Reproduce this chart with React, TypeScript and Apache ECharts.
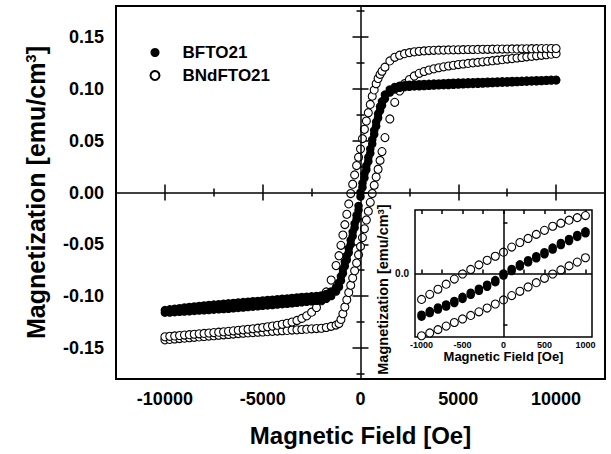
import React, { useEffect, useRef } from "react";
import * as echarts from "echarts";

// Applied magnetic field grid (Oe), ascending
const fieldNeg = [-10000, -9750, -9500, -9250, -9000, -8750, -8500, -8250, -8000, -7750, -7500, -7250, -7000, -6750, -6500, -6250, -6000, -5750, -5500, -5250, -5000, -4750, -4500, -4250, -4000, -3750, -3500, -3250, -3000, -2750, -2500, -2250, -2000, -1750, -1500, -1250];
const fieldMid = [-1100, -1000, -900, -800, -700, -600, -500, -400, -300, -200, -100, 0, 100, 200, 300, 400, 500, 600, 700, 800, 900, 1000, 1100];
const fieldPos = [1250, 1500, 1750, 2000, 2250, 2500, 2750, 3000, 3250, 3500, 3750, 4000, 4250, 4500, 4750, 5000, 5250, 5500, 5750, 6000, 6250, 6500, 6750, 7000, 7250, 7500, 7750, 8000, 8250, 8500, 8750, 9000, 9250, 9500, 9750, 10000];
const field = [...fieldNeg, ...fieldMid, ...fieldPos];

// BFTO21 (filled) – descending branch (upper)
const bftoUpper = [
  -0.1135, -0.1128, -0.1122, -0.1116, -0.1110, -0.1105, -0.1100, -0.1095, -0.1090, -0.1086, -0.1082, -0.1078, -0.1074, -0.1070, -0.1066, -0.1062, -0.1058, -0.1054, -0.1050, -0.1046, -0.1042, -0.1038, -0.1034, -0.1030, -0.1026, -0.1022, -0.1018, -0.1013, -0.1008, -0.1005, -0.1002, -0.0998, -0.0993, -0.0980, -0.0955, -0.0915,
  -0.0870, -0.0810, -0.0740, -0.0670, -0.0610, -0.0540, -0.0460, -0.0380, -0.0300, -0.0220, -0.0130, 0.0000, 0.0090, 0.0180, 0.0260, 0.0340, 0.0420, 0.0510, 0.0600, 0.0680, 0.0760, 0.0830, 0.0880,
  0.0945, 0.0995, 0.1018, 0.1030, 0.1036, 0.1040, 0.1043, 0.1045, 0.1047, 0.1049, 0.1051, 0.1053, 0.1055, 0.1057, 0.1059, 0.1061, 0.1062, 0.1063, 0.1064, 0.1066, 0.1067, 0.1069, 0.1070, 0.1071, 0.1073, 0.1074, 0.1076, 0.1077, 0.1078, 0.1080, 0.1081, 0.1083, 0.1084, 0.1086, 0.1087, 0.1088,
];
// BFTO21 (filled) – ascending branch (lower)
const bftoLower = [
  -0.1160, -0.1158, -0.1155, -0.1152, -0.1149, -0.1146, -0.1143, -0.1140, -0.1137, -0.1134, -0.1131, -0.1128, -0.1125, -0.1122, -0.1118, -0.1114, -0.1110, -0.1106, -0.1102, -0.1098, -0.1094, -0.1090, -0.1086, -0.1082, -0.1078, -0.1074, -0.1069, -0.1064, -0.1059, -0.1055, -0.1050, -0.1045, -0.1040, -0.1025, -0.1000, -0.0955,
  -0.0910, -0.0850, -0.0780, -0.0710, -0.0650, -0.0580, -0.0500, -0.0420, -0.0340, -0.0260, -0.0170, -0.0040, 0.0050, 0.0140, 0.0220, 0.0300, 0.0380, 0.0470, 0.0560, 0.0640, 0.0720, 0.0790, 0.0840,
  0.0905, 0.0965, 0.0995, 0.1010, 0.1017, 0.1021, 0.1024, 0.1026, 0.1028, 0.1030, 0.1032, 0.1034, 0.1036, 0.1038, 0.1040, 0.1042, 0.1044, 0.1046, 0.1048, 0.1050, 0.1052, 0.1054, 0.1056, 0.1058, 0.1060, 0.1062, 0.1064, 0.1066, 0.1068, 0.1070, 0.1072, 0.1074, 0.1076, 0.1078, 0.1080, 0.1082,
];
// BNdFTO21 (open) – descending branch (upper)
const bndUpper = [
  -0.1392, -0.1388, -0.1384, -0.1380, -0.1376, -0.1372, -0.1368, -0.1364, -0.1360, -0.1356, -0.1352, -0.1348, -0.1344, -0.1340, -0.1335, -0.1330, -0.1325, -0.1320, -0.1315, -0.1309, -0.1303, -0.1296, -0.1289, -0.1281, -0.1272, -0.1262, -0.1250, -0.1235, -0.1215, -0.1190, -0.1155, -0.1110, -0.1045, -0.0960, -0.0845, -0.0705,
  -0.0610, -0.0510, -0.0410, -0.0310, -0.0210, -0.0110, -0.0010, 0.0080, 0.0170, 0.0260, 0.0340, 0.0420, 0.0520, 0.0610, 0.0690, 0.0770, 0.0850, 0.0930, 0.0990, 0.1050, 0.1100, 0.1140, 0.1170,
  0.1210, 0.1270, 0.1305, 0.1325, 0.1340, 0.1350, 0.1358, 0.1363, 0.1367, 0.1370, 0.1372, 0.1374, 0.1375, 0.1376, 0.1377, 0.1378, 0.1379, 0.1380, 0.1380, 0.1381, 0.1382, 0.1382, 0.1383, 0.1384, 0.1384, 0.1385, 0.1386, 0.1386, 0.1387, 0.1387, 0.1388, 0.1388, 0.1389, 0.1389, 0.1390, 0.1390,
];
// BNdFTO21 (open) – ascending branch (lower)
const bndLower = [
  -0.1422, -0.1418, -0.1414, -0.1410, -0.1406, -0.1402, -0.1398, -0.1394, -0.1390, -0.1386, -0.1382, -0.1378, -0.1374, -0.1370, -0.1366, -0.1362, -0.1358, -0.1355, -0.1352, -0.1349, -0.1346, -0.1343, -0.1340, -0.1337, -0.1334, -0.1331, -0.1328, -0.1325, -0.1322, -0.1319, -0.1316, -0.1313, -0.1310, -0.1303, -0.1292, -0.1280,
  -0.1265, -0.1225, -0.1170, -0.1105, -0.1035, -0.0965, -0.0895, -0.0825, -0.0755, -0.0680, -0.0600, -0.0520, -0.0435, -0.0350, -0.0265, -0.0180, -0.0095, -0.0010, 0.0070, 0.0150, 0.0225, 0.0310, 0.0395,
  0.0530, 0.0710, 0.0870, 0.0980, 0.1050, 0.1090, 0.1125, 0.1150, 0.1168, 0.1182, 0.1194, 0.1204, 0.1213, 0.1221, 0.1228, 0.1235, 0.1240, 0.1246, 0.1251, 0.1256, 0.1261, 0.1267, 0.1272, 0.1277, 0.1282, 0.1288, 0.1293, 0.1298, 0.1303, 0.1309, 0.1314, 0.1319, 0.1324, 0.1330, 0.1335, 0.1340,
];

// Tick positions
const xMajor = [-10000, -5000, 0, 5000, 10000];
const xMinor = [-7500, -2500, 2500, 7500];
const yMajor = [-0.15, -0.1, -0.05, 0, 0.05, 0.1, 0.15];
const yMinor = [-0.175, -0.125, -0.075, -0.025, 0.025, 0.075, 0.125, 0.175];
const insetXTicks = [-1000, -750, -500, -250, 0, 250, 500, 750, 1000];
const insetXLabels = [-1000, -500, 0, 500, 1000];
const insetYTicks = [-0.1, 0, 0.1];
const insetYLabels = [0];

const FONT = '"Liberation Sans", Arial, Helvetica, sans-serif';

const pairs = (h: number[], m: number[]) => h.map((v, i) => [v, m[i]]);

function axis(gridIndex: number, position: string, min: number, max: number, ticks: number[], len: number, labels?: any) {
  return {
    type: "value",
    gridIndex,
    position,
    min,
    max,
    axisLine: { show: false },
    splitLine: { show: false },
    axisTick: { show: true, inside: true, length: len, customValues: ticks, lineStyle: { color: "#000", width: 1.5 } },
    axisLabel: labels ? labels : { show: false },
  };
}

export default function App() {
  const ref = useRef<HTMLDivElement>(null);
  useEffect(() => {
    if (!ref.current) return;
    const chart = echarts.init(ref.current, null, { renderer: "svg" });
    const bfto = [...pairs(field, bftoLower), ...pairs(field, bftoUpper)];
    const bnd = [...pairs(field, bndLower), ...pairs(field, bndUpper)];
    const zeroLines = {
      silent: true,
      symbol: ["none", "none"],
      label: { show: false },
      lineStyle: { color: "#000", width: 1.5, type: "solid", opacity: 1 },
      emphasis: { disabled: true },
      data: [{ xAxis: 0 }, { yAxis: 0 }],
    };
    const mainXLabel = {
      show: true,
      customValues: xMajor,
      fontSize: 18,
      fontWeight: "bold",
      fontFamily: FONT,
      color: "#000",
      margin: 11,
      formatter: (v: number) => String(v),
    };
    const mainYLabel = {
      show: true,
      customValues: yMajor,
      fontSize: 18,
      fontWeight: "bold",
      fontFamily: FONT,
      color: "#000",
      margin: 12,
      formatter: (v: number) => v.toFixed(2),
    };
    const xMain: any = axis(0, "bottom", -12500, 12500, xMajor, 8, mainXLabel);
    xMain.name = "Magnetic Field [Oe]";
    xMain.nameLocation = "middle";
    xMain.nameGap = 44;
    xMain.nameTextStyle = { fontSize: 24, fontWeight: "bold", fontFamily: FONT, color: "#000" };
    const yMain: any = axis(0, "left", -0.18, 0.18, yMajor, 8, mainYLabel);
    yMain.name = "Magnetization [emu/cm{sup|3}]";
    yMain.nameLocation = "middle";
    yMain.nameGap = 68;
    yMain.nameTextStyle = {
      fontSize: 25,
      fontWeight: "bold",
      fontFamily: FONT,
      color: "#000",
      rich: { sup: { fontSize: 15, fontWeight: "bold", fontFamily: FONT, color: "#000", verticalAlign: "top" } },
    };

    const xInset: any = axis(1, "bottom", -1080, 1080, insetXTicks, 4, {
      show: true,
      customValues: insetXLabels,
      fontSize: 9,
      fontWeight: "bold",
      fontFamily: FONT,
      color: "#000",
      margin: 3,
      formatter: (v: number) => String(v),
    });
    xInset.name = "Magnetic Field [Oe]";
    xInset.nameLocation = "middle";
    xInset.nameGap = 13;
    xInset.nameTextStyle = { fontSize: 13, fontWeight: "bold", fontFamily: FONT, color: "#000" };
    const yInset: any = axis(1, "left", -0.125, 0.125, insetYTicks, 4, {
      show: true,
      customValues: insetYLabels,
      fontSize: 10,
      fontWeight: "bold",
      fontFamily: FONT,
      color: "#000",
      margin: 6,
      formatter: () => "0.0",
    });
    yInset.name = "Magnetization [emu/cm{sup|3}]";
    yInset.nameLocation = "middle";
    yInset.nameGap = 25;
    yInset.nameTextStyle = {
      fontSize: 14.5,
      fontWeight: "bold",
      fontFamily: FONT,
      color: "#000",
      padding: [0, 32, 0, 0],
      rich: { sup: { fontSize: 9.5, fontWeight: "bold", fontFamily: FONT, color: "#000", verticalAlign: "top" } },
    };

    const openStyle = { color: "#fff", borderColor: "#000", borderWidth: 1.1, opacity: 1 };
    const filledStyle = { color: "#000", opacity: 1 };

    const option: any = {
      animation: false,
      backgroundColor: "#fff",
      grid: [
        { left: 116, top: 6, right: 6, bottom: 75, show: true, borderColor: "#000", borderWidth: 2, backgroundColor: "transparent" },
        { left: 415, top: 210, right: 19, bottom: 117, show: true, borderColor: "#000", borderWidth: 1.5, backgroundColor: "#fff" },
      ],
      legend: {
        left: 149.5,
        top: 44,
        padding: 0,
        orient: "vertical",
        itemWidth: 9,
        itemHeight: 9,
        itemGap: 6,
        selectedMode: false,
        textStyle: { fontSize: 17, fontWeight: "bold", fontFamily: FONT, color: "#000", padding: [0, 0, 0, 18] },
        data: [
          { name: "BFTO21", icon: "circle" },
          { name: "BNdFTO21", icon: "circle" },
        ],
      },
      xAxis: [
        xMain,
        axis(0, "bottom", -12500, 12500, xMinor, 4),
        axis(0, "top", -12500, 12500, xMajor, 8),
        axis(0, "top", -12500, 12500, xMinor, 4),
        xInset,
        axis(1, "top", -1080, 1080, insetXTicks, 4),
      ],
      yAxis: [
        yMain,
        axis(0, "left", -0.18, 0.18, yMinor, 4),
        axis(0, "right", -0.18, 0.18, yMajor, 8),
        axis(0, "right", -0.18, 0.18, yMinor, 4),
        yInset,
      ],
      series: [
        {
          name: "BNdFTO21",
          type: "scatter",
          xAxisIndex: 0,
          yAxisIndex: 0,
          symbol: "circle",
          symbolSize: 8,
          itemStyle: openStyle,
          emphasis: { disabled: true },
          data: bnd,
          markLine: zeroLines,
        },
        {
          name: "BFTO21",
          type: "scatter",
          xAxisIndex: 0,
          yAxisIndex: 0,
          symbol: "circle",
          symbolSize: 8.5,
          itemStyle: filledStyle,
          emphasis: { disabled: true },
          data: bfto,
        },
        {
          name: "BNdFTO21",
          type: "scatter",
          xAxisIndex: 4,
          yAxisIndex: 4,
          symbol: "circle",
          symbolSize: 8,
          clip: true,
          itemStyle: openStyle,
          emphasis: { disabled: true },
          data: bnd,
          markLine: zeroLines,
        },
        {
          name: "BFTO21",
          type: "scatter",
          xAxisIndex: 4,
          yAxisIndex: 4,
          symbol: "circle",
          symbolSize: 8.5,
          clip: true,
          itemStyle: filledStyle,
          emphasis: { disabled: true },
          data: bfto,
        },
      ],
    };
    chart.setOption(option);
    return () => chart.dispose();
  }, []);
  return <div ref={ref} style={{ position: "fixed", left: 0, top: 0, width: 611, height: 454, background: "#fff" }} />;
}
